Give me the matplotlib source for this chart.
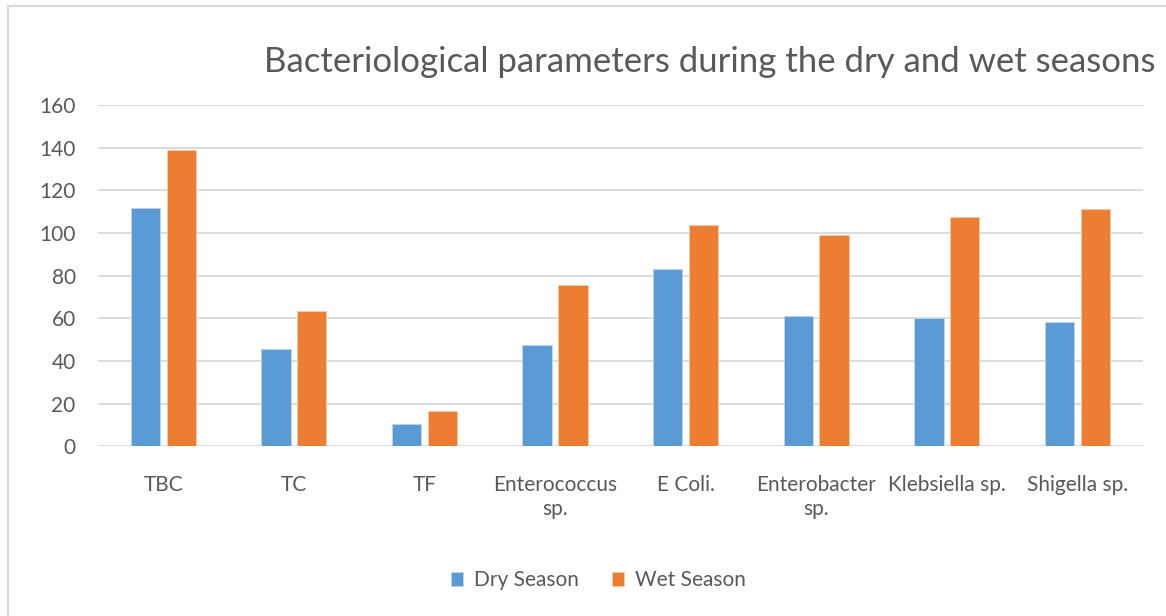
import numpy as np
import matplotlib
matplotlib.use("Agg")
import matplotlib.pyplot as plt
from matplotlib.patches import Rectangle

categories = ["TBC", "TC", "TF", "Enterococcus\nsp.", "E Coli.", "Enterobacter\nsp.",
              "Klebsiella sp.", "Shigella sp."]
dry_season = [111.6, 45.5, 10.5, 47.5, 83.3, 61.1, 60.1, 58.4]
wet_season = [138.8, 63.4, 16.4, 75.6, 103.6, 99.2, 107.5, 111.2]
yticks = [0, 20, 40, 60, 80, 100, 120, 140, 160]

plt.rcParams["font.family"] = ["Lato", "DejaVu Sans"]
text_color = "#595959"
blue = "#5b9bd5"
orange = "#ed7d31"

fig = plt.figure(figsize=(11.66, 6.16), dpi=100)
ax = fig.add_axes([0.084, 0.2755, 0.896, 0.554])

# chart border
fig.patches.append(Rectangle((8 / 1166, -0.1), 1.2, 1 - 6 / 616 + 0.1, transform=fig.transFigure,
                             fill=False, edgecolor="#d9d9d9", linewidth=1.5))

x = np.arange(len(categories))
w = 0.225
gap = 0.05
ax.bar(x - (w + gap) / 2, dry_season, w, color=blue, edgecolor="#bdd7ee", linewidth=0.6, label="Dry Season", zorder=3)
ax.bar(x + (w + gap) / 2, wet_season, w, color=orange, edgecolor="#f8cbad", linewidth=0.6, label="Wet Season", zorder=3)

ax.set_xlim(-0.5, len(categories) - 0.5)
ax.set_ylim(0, 160)
ax.set_yticks(yticks)
ax.yaxis.grid(True, color="#d9d9d9", linewidth=1.3, zorder=0)
for s in ax.spines.values():
    s.set_visible(False)
ax.tick_params(axis="both", length=0, labelsize=15, colors=text_color)
ax.tick_params(axis="y", pad=16)
ax.set_xticks(x)
ax.set_xticklabels(categories, linespacing=1.25, va="top")
ax.tick_params(axis="x", pad=21)

fig.text(0.609, 0.899, "Bacteriological parameters during the dry and wet seasons",
         ha="center", va="center", fontsize=25, color=text_color)

fig.legend(loc="center", bbox_to_anchor=(0.513, 0.058), ncol=2, frameon=False,
           fontsize=15, labelcolor=text_color, handlelength=0.6, handleheight=0.6,
           columnspacing=1.6, handletextpad=0.5)

fig.savefig("out.png", dpi=100)
